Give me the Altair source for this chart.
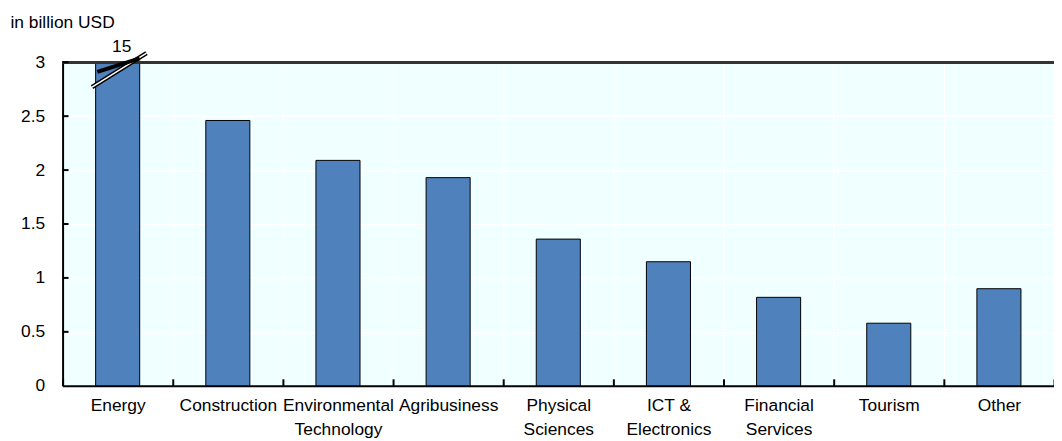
import altair as alt
import pandas as pd

categories = ["Energy", "Construction", "Environmental Technology", "Agribusiness",
              "Physical Sciences", "ICT & Electronics", "Financial Services", "Tourism", "Other"]
values = [15, 2.46, 2.09, 1.93, 1.36, 1.15, 0.82, 0.58, 0.90]
y_ticks = [0.5, 1, 1.5, 2, 2.5, 3]
axis_cap = 3

# break symbol on the capped Energy bar (band units along x, data units along y)
break_thick_x = [0.315, 0.70]
break_thick_y = [2.91, 3.035]
break_double_x = [0.267, 0.762]
break_double_y = [2.77, 3.085]

FONT = "Liberation Sans"
FS = 17.5
BAR = "#4F81BD"
BG = "#F0FFFF"

df = pd.DataFrame({"cat": categories, "value": values})
df_ticks = pd.DataFrame({"t": y_ticks})
df_thick = pd.DataFrame({"bx": break_thick_x, "by": break_thick_y})
df_double = pd.DataFrame({"bx": break_double_x, "by": break_double_y})
df_label = df[df["value"] > axis_cap]

bar_scale = alt.Scale(domain=categories, paddingInner=0.6, paddingOuter=0.3)
step_scale = alt.Scale(domain=categories, paddingInner=0, paddingOuter=0)
yscale = alt.Scale(domain=[0, axis_cap], nice=False)

label_expr = ("!datum.value ? '' : datum.value == 'ICT & Electronics' ? ['ICT &', 'Electronics'] : "
              "split(datum.value, ' ')")

bars = alt.Chart(df).transform_calculate(
    shown=f"min(datum.value, {axis_cap})"
).mark_bar(color=BAR, stroke="black", strokeWidth=1).encode(
    x=alt.X("cat:N", scale=bar_scale, sort=categories, axis=None),
    y=alt.Y("shown:Q", scale=yscale,
            axis=alt.Axis(values=[0, 0.5, 1, 1.5, 2, 2.5, 3], format="~g",
                          title="in billion USD",
                          titleAngle=0, titleAlign="left", titleBaseline="alphabetic",
                          titleX=-53, titleY=-35, titleFont=FONT, titleFontSize=FS,
                          titleFontWeight="normal", titleColor="black",
                          labelFont=FONT, labelFontSize=FS, labelColor="black",
                          labelPadding=18, ticks=False, domainColor="black",
                          domainWidth=2, grid=True, gridColor="white", gridWidth=1.5)),
)

xaxis = alt.Chart(df).mark_rule(opacity=0).encode(
    x=alt.X("cat:N", scale=step_scale, sort=categories, title=None,
            axis=alt.Axis(labelAngle=0, labelExpr=label_expr, labelFont=FONT,
                          labelFontSize=FS, labelColor="black", labelPadding=11,
                          labelLineHeight=24, labelBaseline="top",
                          ticks=False, domainColor="black", domainWidth=2,
                          grid=True, gridColor="white", gridWidth=1.5,
                          tickBand="extent")),
)

xticks = alt.Chart(df).mark_rule(opacity=0).encode(
    x=alt.X("cat:N", scale=step_scale, sort=categories,
            axis=alt.Axis(orient="top", offset=-326, labels=False, domain=False,
                          grid=False, tickBand="extent", tickSize=7, tickWidth=2,
                          tickColor="black", title=None)),
)

top_rule = alt.Chart(df_ticks).mark_rule(color="#333333", strokeWidth=2.5).encode(
    y=alt.datum(axis_cap, scale=yscale)
)

yticks = alt.Chart(df_ticks).mark_rule(color="black", strokeWidth=2).encode(
    y=alt.Y("t:Q", scale=yscale),
    x=alt.value(0), x2=alt.value(6),
)

label = alt.Chart(df_label).mark_text(
    font=FONT, fontSize=FS, color="black", dy=-15, dx=4
).encode(
    x=alt.X("cat:N", scale=bar_scale, sort=categories, axis=None),
    y=alt.datum(axis_cap, scale=yscale),
    text=alt.Text("value:Q"),
)

bx = alt.X("bx:Q", scale=alt.Scale(domain=[0, len(categories)], nice=False, zero=False), axis=None)
by = alt.Y("by:Q", scale=yscale)
thick = alt.Chart(df_thick).mark_line(color="black", strokeWidth=4).encode(x=bx, y=by)
dbl_outer = alt.Chart(df_double).mark_line(color="black", strokeWidth=4.5).encode(x=bx, y=by)
dbl_inner = alt.Chart(df_double).mark_line(color="white", strokeWidth=1.5).encode(x=bx, y=by)

chart = alt.layer(
    xaxis, bars, xticks, top_rule, yticks, label, dbl_outer, dbl_inner, thick
).resolve_scale(x="independent").properties(
    width=999, height=326,
    autosize=alt.AutoSizeParams(type="none"),
    padding={"left": 55, "top": 53, "right": 0, "bottom": 54},
).configure_view(fill=BG, stroke=None)

chart.save("out.html", embed_options={"renderer": "svg", "actions": False})
